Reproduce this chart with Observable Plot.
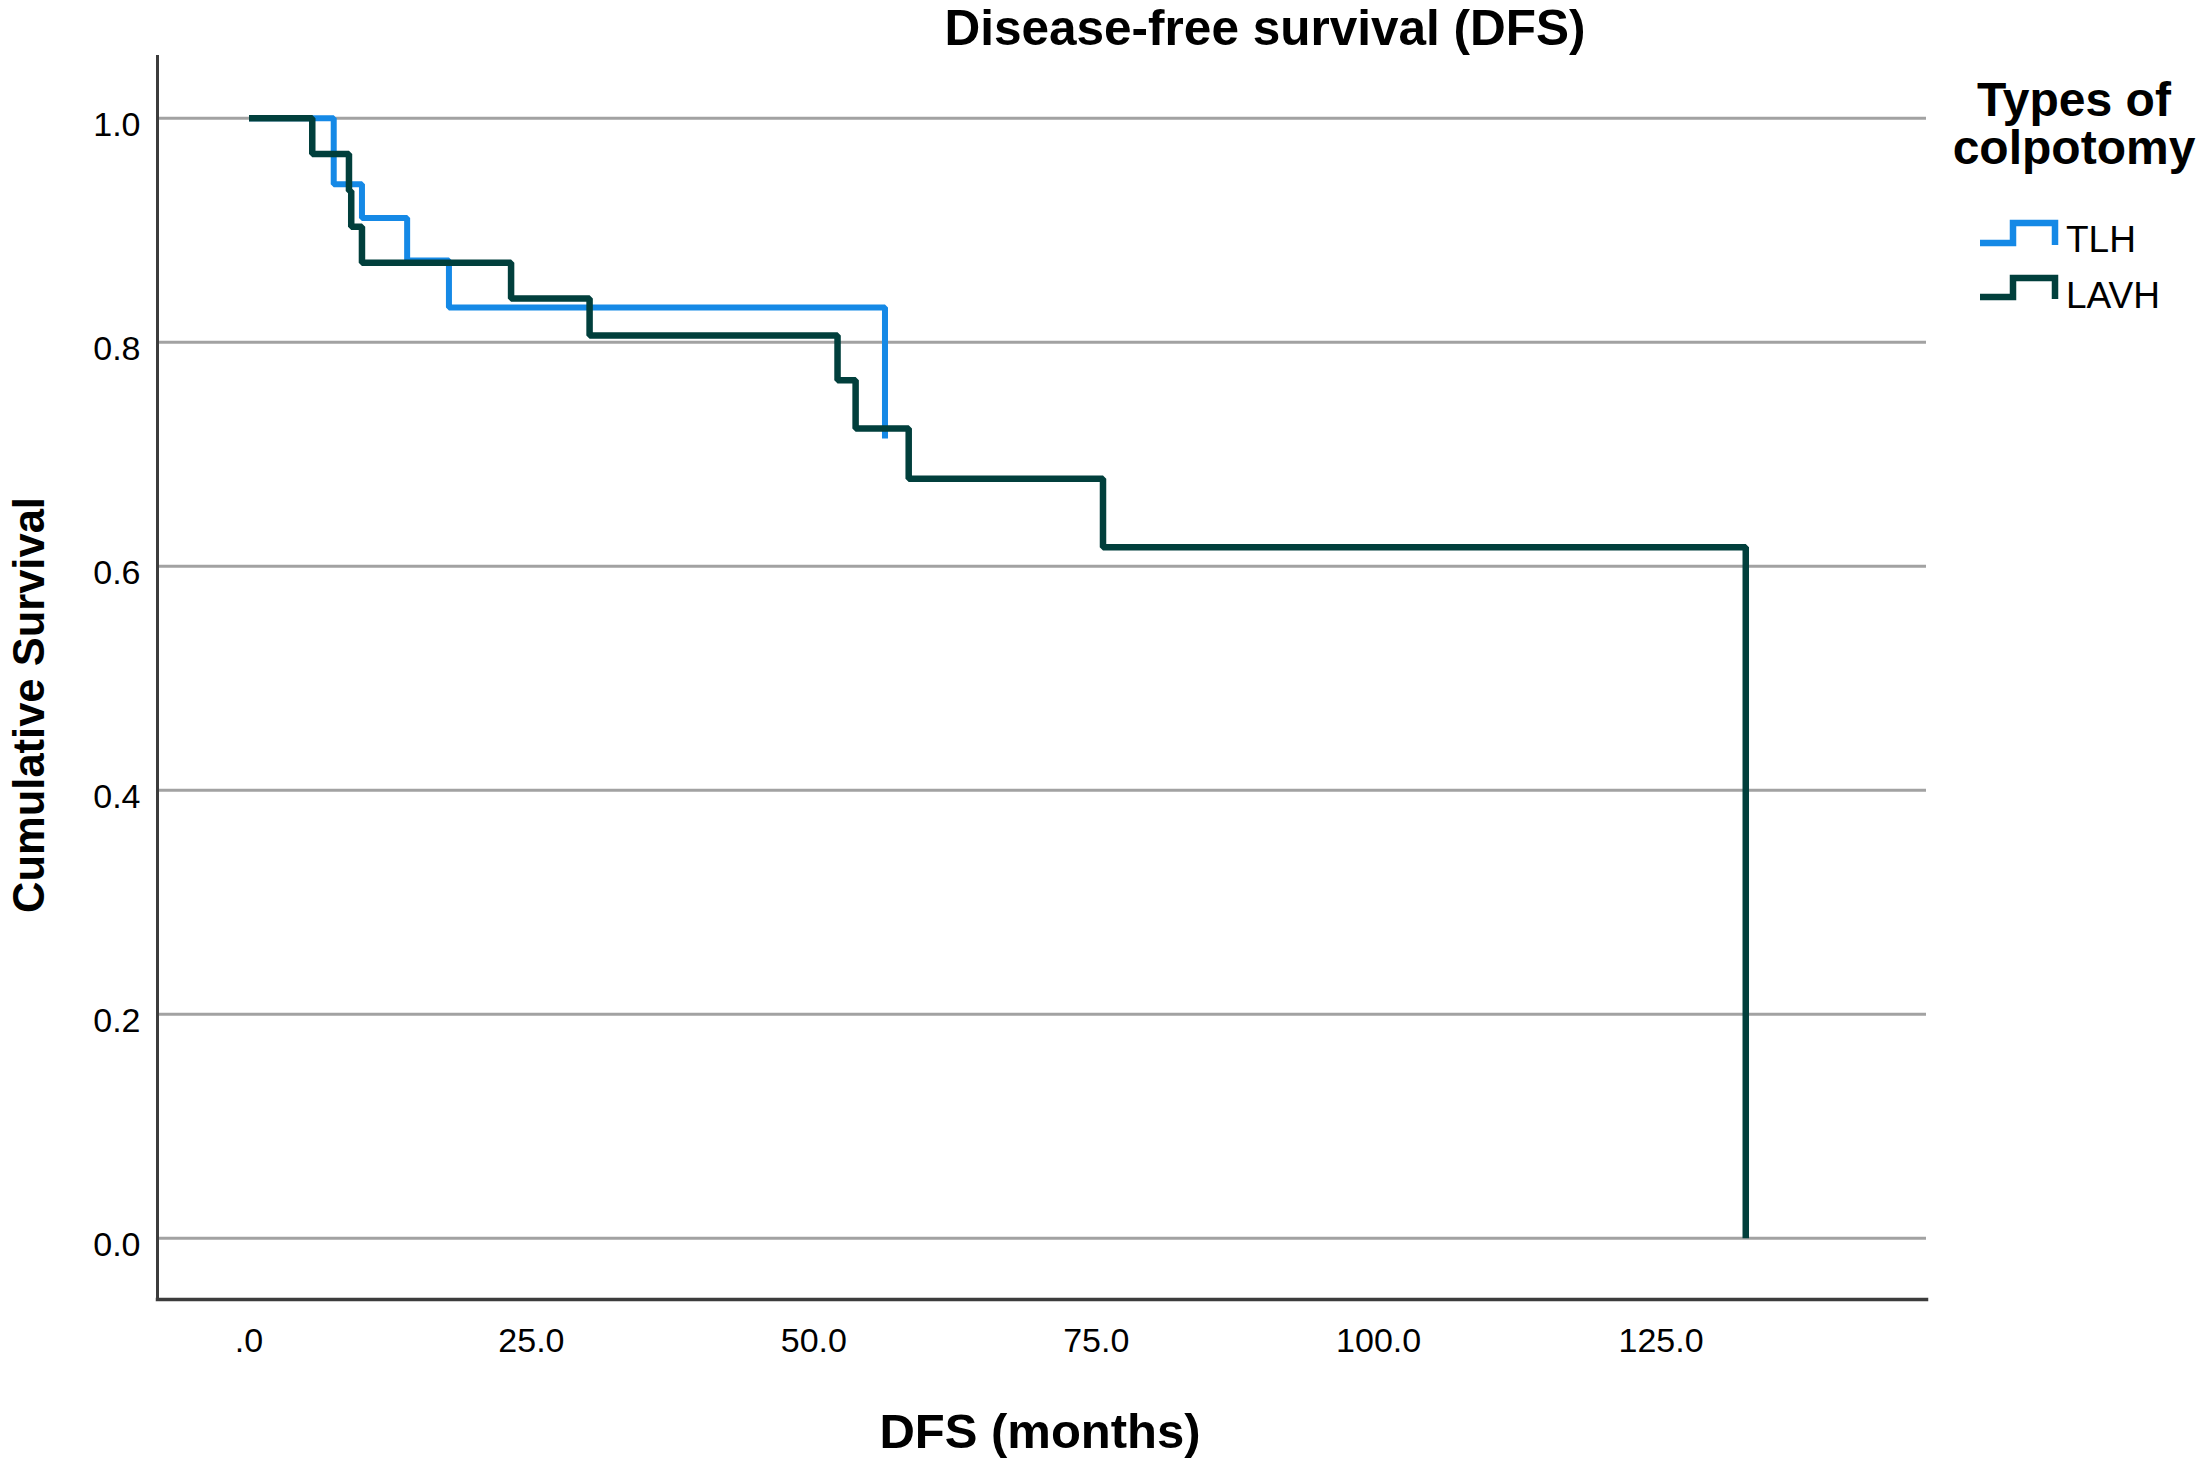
<!DOCTYPE html>
<html>
<head>
<meta charset="utf-8">
<script src="https://cdn.jsdelivr.net/npm/d3@7"></script>
<script src="https://cdn.jsdelivr.net/npm/@observablehq/plot@0.6"></script>
<style>
  html, body { margin: 0; padding: 0; background: #fff; }
  #wrap { position: relative; width: 2205px; height: 1460px; overflow: hidden; font-family: "Liberation Sans", Arial, sans-serif; }
  #overlay { position: absolute; left: 0; top: 0; pointer-events: none; }
</style>
</head>
<body>
<div id="wrap"></div>
<script>
// ---- data ----
const groups = ["TLH", "LAVH"];
const groupColors = ["#1589e6", "#013f3c"];

const tlhMonths   = [0, 7.5, 10.0, 14.0, 17.7, 56.3];
const tlhSurvival = [1.0, 0.941, 0.911, 0.873, 0.831, 0.714];

const lavhMonths   = [0, 5.6, 8.85, 9.05, 10.0, 23.2, 30.15, 52.1, 53.7, 58.4, 75.6, 132.5];
const lavhSurvival = [1.0, 0.968, 0.935, 0.903, 0.871, 0.839, 0.806, 0.766, 0.723, 0.678, 0.617, 0.0];

const xTicks = [0, 25, 50, 75, 100, 125];
const yTicks = [0, 0.2, 0.4, 0.6, 0.8, 1.0];

const chartTitle = "Disease-free survival (DFS)";
const xTitle = "DFS (months)";
const yTitle = "Cumulative Survival";
const legendTitle = ["Types of", "colpotomy"];

// ---- build table ----
const tlh = tlhMonths.map((t, i) => ({group: "TLH", t, s: tlhSurvival[i]}));
const lavh = lavhMonths.map((t, i) => ({group: "LAVH", t, s: lavhSurvival[i]}));

const W = 2205, H = 1460;
const chart = Plot.plot({
  width: W,
  height: H,
  marginLeft: 157,
  marginRight: 279,
  marginTop: 56,
  marginBottom: 161,
  style: {fontFamily: "'Liberation Sans', Arial, sans-serif", background: "#fff", color: "#000"},
  x: {domain: [-8.1, 148.5], label: null},
  y: {domain: [-0.0547, 1.0551], label: null},
  color: {domain: groups, range: groupColors},
  marks: [
    Plot.gridY(yTicks, {stroke: "#a2a2a2", strokeOpacity: 1, strokeWidth: 3}),
    Plot.axisY({ticks: yTicks, tickFormat: d3.format(".1f"), tickSize: 0, tickPadding: 17, fontSize: 34, dy: 7, label: null}),
    Plot.axisX({ticks: xTicks, tickFormat: d => d === 0 ? ".0" : d.toFixed(1), tickSize: 0, tickPadding: 28, fontSize: 34, label: null}),
    Plot.line(tlh, {x: "t", y: "s", stroke: "group", curve: "step-after", strokeWidth: 6, strokeLinejoin: "miter", strokeLinecap: "butt"}),
    Plot.line(lavh, {x: "t", y: "s", stroke: "group", curve: "step-after", strokeWidth: 6.5, strokeLinejoin: "miter", strokeLinecap: "butt"}),
    Plot.frame({anchor: "left", stroke: "#3c3c3c", strokeWidth: 3}),
    Plot.frame({anchor: "bottom", stroke: "#3c3c3c", strokeWidth: 3.5})
  ]
});
const wrap = document.getElementById("wrap");
wrap.appendChild(chart);

// ---- overlay: titles and legend ----
const ns = "http://www.w3.org/2000/svg";
const ov = d3.select(wrap).append("svg")
  .attr("id", "overlay")
  .attr("width", W).attr("height", H)
  .attr("xmlns", ns)
  .style("font-family", "'Liberation Sans', Arial, sans-serif");

ov.append("text").attr("x", 1265).attr("y", 45).attr("text-anchor", "middle")
  .attr("font-size", 49.5).attr("font-weight", "bold").attr("fill", "#000").text(chartTitle);

ov.append("text").attr("x", 1040).attr("y", 1448).attr("text-anchor", "middle")
  .attr("font-size", 49).attr("font-weight", "bold").attr("fill", "#000").text(xTitle);

ov.append("text").attr("transform", "translate(44,705) rotate(-90)").attr("text-anchor", "middle")
  .attr("font-size", 43.5).attr("font-weight", "bold").attr("fill", "#000").text(yTitle);

legendTitle.forEach((line, i) => {
  ov.append("text").attr("x", 2074).attr("y", 116 + i * 48).attr("text-anchor", "middle")
    .attr("font-size", 48).attr("font-weight", "bold").attr("fill", "#000").text(line);
});

const legendRows = [
  {low: 243, high: 223, base: 252},
  {low: 297, high: 278, base: 308}
];
groups.forEach((g, i) => {
  const r = legendRows[i];
  const pts = [[1980, r.low], [2013, r.low], [2013, r.high], [2055, r.high], [2055, r.low + 2]];
  ov.append("polyline").attr("points", pts.map(p => p.join(",")).join(" "))
    .attr("fill", "none").attr("stroke", groupColors[i]).attr("stroke-width", 6.5)
    .attr("stroke-linejoin", "miter");
  ov.append("text").attr("x", 2066).attr("y", r.base).attr("font-size", 37)
    .attr("fill", "#000").text(g);
});
</script>
</body>
</html>
